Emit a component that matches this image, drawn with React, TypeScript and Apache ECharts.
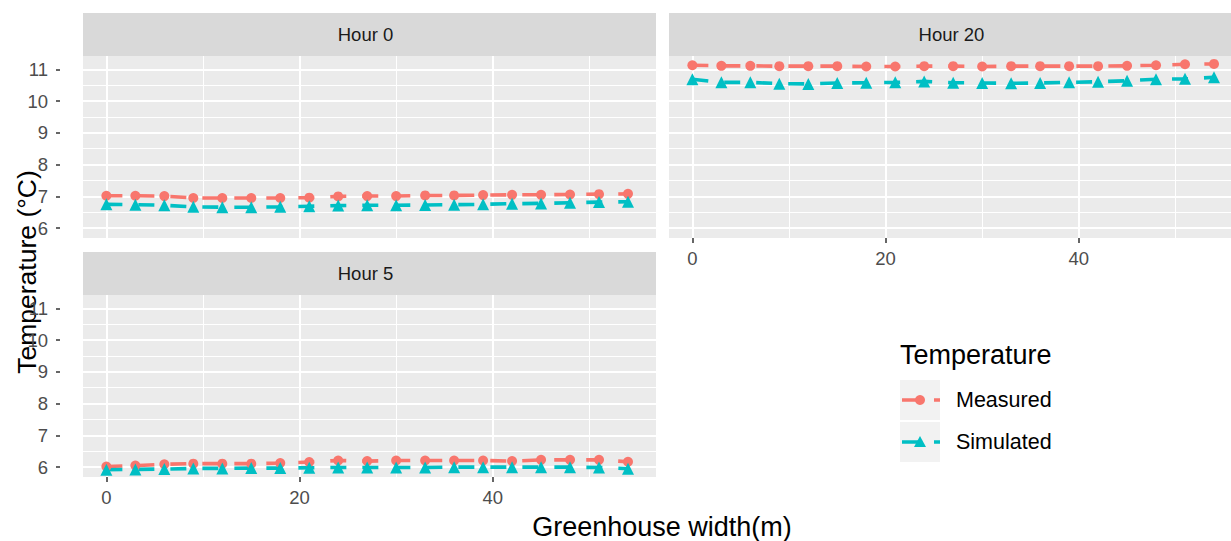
import React, { useEffect, useRef } from "react";
import * as echarts from "echarts";

// ---- data ----
const widthM = [0, 3, 6, 9, 12, 15, 18, 21, 24, 27, 30, 33, 36, 39, 42, 45, 48, 51, 54];
const panelNames = ["Hour 0", "Hour 20", "Hour 5"];
const measuredH0 = [7.02, 7.02, 7.01, 6.95, 6.95, 6.95, 6.95, 6.96, 7.0, 7.01, 7.01, 7.03, 7.03, 7.04, 7.05, 7.05, 7.06, 7.07, 7.08];
const simulatedH0 = [6.75, 6.74, 6.72, 6.67, 6.66, 6.66, 6.67, 6.69, 6.71, 6.72, 6.72, 6.73, 6.74, 6.75, 6.77, 6.78, 6.8, 6.82, 6.83];
const measuredH20 = [11.13, 11.11, 11.11, 11.1, 11.1, 11.1, 11.09, 11.09, 11.1, 11.1, 11.09, 11.1, 11.1, 11.1, 11.1, 11.11, 11.13, 11.16, 11.17];
const simulatedH20 = [10.69, 10.59, 10.59, 10.55, 10.54, 10.57, 10.58, 10.59, 10.62, 10.58, 10.57, 10.56, 10.57, 10.59, 10.61, 10.64, 10.69, 10.7, 10.75];
const measuredH5 = [6.02, 6.05, 6.09, 6.11, 6.11, 6.11, 6.13, 6.16, 6.21, 6.19, 6.21, 6.21, 6.21, 6.21, 6.19, 6.23, 6.23, 6.23, 6.17];
const simulatedH5 = [5.92, 5.93, 5.94, 5.96, 5.96, 5.97, 5.97, 5.98, 5.99, 5.99, 5.99, 5.99, 6.0, 6.0, 6.0, 6.0, 6.0, 5.99, 5.95];
const seriesNames = ["Measured", "Simulated"];
const yTicks = [6, 7, 8, 9, 10, 11];
const yMinor = [6.5, 7.5, 8.5, 9.5, 10.5];
const xTicks = [0, 20, 40];
const xMinor = [10, 30, 50];

const measured = [measuredH0, measuredH20, measuredH5];
const simulated = [simulatedH0, simulatedH20, simulatedH5];

const RED = "#F8766D";
const TEAL = "#00BFC4";
const FONT = "'Liberation Sans', Arial, sans-serif";

const X_MIN = -2.42;
const X_MAX = 56.9;
const Y_MIN = 5.69;
const Y_MAX = 11.42;

const grids = [
  { left: 83, top: 56, width: 573, height: 182 },
  { left: 669, top: 56, width: 573, height: 182 },
  { left: 83, top: 295, width: 573, height: 182 },
];
const showXLabels = [false, true, true];
const showYLabels = [true, false, true];

function buildOption() {
  const xAxis: any[] = [];
  const yAxis: any[] = [];
  const series: any[] = [];
  const graphic: any[] = [];
  const gridOpts: any[] = grids.map((g) => ({
    ...g,
    show: true,
    backgroundColor: "#ebebeb",
    borderWidth: 0,
    containLabel: false,
    outerBoundsMode: "none",
  }));

  grids.forEach((g, i) => {
    xAxis.push({
      type: "value",
      gridIndex: i,
      min: X_MIN,
      max: X_MAX,
      axisLine: { show: false, onZero: false },
      axisTick: {
        show: showXLabels[i],
        customValues: xTicks,
        length: 5,
        lineStyle: { color: "#333333", width: 1.5 },
      },
      axisLabel: {
        show: showXLabels[i],
        customValues: xTicks,
        color: "#4d4d4d",
        fontSize: 18.5,
        fontFamily: FONT,
        margin: 11,
      },
      splitLine: { show: true, lineStyle: { color: "#ffffff", width: 2 } },
    });
    xAxis.push({
      type: "value",
      gridIndex: i,
      min: X_MIN,
      max: X_MAX,
      axisLine: { show: false, onZero: false },
      axisTick: { show: false, customValues: xMinor },
      axisLabel: { show: false, customValues: xMinor },
      splitLine: { show: true, lineStyle: { color: "#ffffff", width: 1 } },
    });
    yAxis.push({
      type: "value",
      gridIndex: i,
      min: Y_MIN,
      max: Y_MAX,
      axisLine: { show: false, onZero: false },
      axisTick: { show: false, customValues: yTicks },
      axisLabel: { show: false, customValues: yTicks },
      splitLine: { show: true, lineStyle: { color: "#ffffff", width: 2 } },
    });
    yAxis.push({
      type: "value",
      gridIndex: i,
      min: Y_MIN,
      max: Y_MAX,
      axisLine: { show: false, onZero: false },
      axisTick: { show: false, customValues: yMinor },
      axisLabel: { show: false, customValues: yMinor },
      splitLine: { show: true, lineStyle: { color: "#ffffff", width: 1 } },
    });

    const sets = [measured[i], simulated[i]];
    const colors = [RED, TEAL];
    const symbols = ["circle", "triangle"];
    const sizes = [10, 12];
    sets.forEach((vals, k) => {
      const data = widthM.map((x, j) => [x, vals[j]]);
      series.push({
        type: "line",
        name: seriesNames[k],
        xAxisIndex: 2 * i,
        yAxisIndex: 2 * i,
        data,
        showSymbol: false,
        symbol: "none",
        lineStyle: { color: colors[k], width: 3.6, type: [16, 16] },
        z: 3,
        silent: true,
      });
    });
    sets.forEach((vals, k) => {
      const data = widthM.map((x, j) => [x, vals[j]]);
      series.push({
        type: "scatter",
        name: seriesNames[k],
        xAxisIndex: 2 * i,
        yAxisIndex: 2 * i,
        data,
        symbol: symbols[k],
        symbolSize: sizes[k],
        itemStyle: { color: colors[k], opacity: 1 },
        z: 4,
        silent: true,
      });
    });

    // strip
    graphic.push({
      type: "rect",
      shape: { x: g.left, y: g.top - 43, width: g.width, height: 43 },
      style: { fill: "#d9d9d9" },
      silent: true,
    });
    graphic.push({
      type: "text",
      x: g.left + g.width / 2 - 4,
      y: g.top - 21.5,
      style: {
        text: panelNames[i],
        fill: "#1a1a1a",
        fontSize: 18.5,
        fontFamily: FONT,
        align: "center",
        verticalAlign: "middle",
      },
      silent: true,
    });
  });

  // label-only overlay grids for the y axes
  grids.forEach((g, i) => {
    if (!showYLabels[i]) return;
    const gi = gridOpts.length;
    gridOpts.push({ ...g, show: false, containLabel: false, outerBoundsMode: "none" });
    xAxis.push({
      type: "category",
      gridIndex: gi,
      data: [""],
      show: false,
      axisLine: { onZero: false },
    });
    yAxis.push({
      type: "value",
      gridIndex: gi,
      min: Y_MIN,
      max: Y_MAX,
      position: "left",
      offset: 23,
      axisLine: { show: false, onZero: false },
      axisTick: {
        show: true,
        customValues: yTicks,
        length: 4,
        lineStyle: { color: "#333333", width: 1.5 },
      },
      axisLabel: {
        show: true,
        customValues: yTicks,
        color: "#4d4d4d",
        fontSize: 18.5,
        fontFamily: FONT,
        margin: 12,
      },
      splitLine: { show: false },
    });
  });

  // axis titles
  graphic.push({
    type: "text",
    x: 27,
    y: 272,
    rotation: Math.PI / 2,
    style: {
      text: "Temperature (°C)",
      fill: "#000000",
      fontSize: 26.5,
      fontFamily: FONT,
      align: "center",
      verticalAlign: "middle",
    },
  });
  graphic.push({
    type: "text",
    x: 662,
    y: 527,
    style: {
      text: "Greenhouse width(m)",
      fill: "#000000",
      fontSize: 27,
      fontFamily: FONT,
      align: "center",
      verticalAlign: "middle",
    },
  });

  // legend
  graphic.push({
    type: "text",
    x: 900,
    y: 355,
    style: {
      text: "Temperature",
      fill: "#000000",
      fontSize: 27,
      fontFamily: FONT,
      align: "left",
      verticalAlign: "middle",
    },
  });
  const keyY = [400, 442];
  const keyColors = [RED, TEAL];
  keyY.forEach((cy, k) => {
    graphic.push({
      type: "rect",
      shape: { x: 900, y: cy - 20, width: 40, height: 40 },
      style: { fill: "#f2f2f2" },
    });
    graphic.push({
      type: "line",
      shape: { x1: 902, y1: cy, x2: 940, y2: cy },
      style: { stroke: keyColors[k], lineWidth: 3.6, lineDash: [16, 16] },
    });
    if (k === 0) {
      graphic.push({
        type: "circle",
        shape: { cx: 920, cy, r: 5 },
        style: { fill: RED },
      });
    } else {
      graphic.push({
        type: "polygon",
        shape: { points: [[920, cy - 6], [926, cy + 5], [914, cy + 5]] },
        style: { fill: TEAL },
      });
    }
    graphic.push({
      type: "text",
      x: 956,
      y: cy,
      style: {
        text: seriesNames[k],
        fill: "#000000",
        fontSize: 21.5,
        fontFamily: FONT,
        align: "left",
        verticalAlign: "middle",
      },
    });
  });

  return {
    animation: false,
    backgroundColor: "#ffffff",
    textStyle: { fontFamily: FONT },
    grid: gridOpts,
    xAxis,
    yAxis,
    series,
    graphic,
  };
}

export default function App() {
  const ref = useRef<HTMLDivElement>(null);
  useEffect(() => {
    if (!ref.current) return;
    const chart = echarts.init(ref.current, undefined, { renderer: "svg" });
    chart.setOption(buildOption() as any);
    return () => chart.dispose();
  }, []);
  return (
    <div
      ref={ref}
      style={{
        position: "fixed",
        left: 0,
        top: 0,
        width: 1231,
        height: 541,
        overflow: "hidden",
        background: "#ffffff",
      }}
    />
  );
}
